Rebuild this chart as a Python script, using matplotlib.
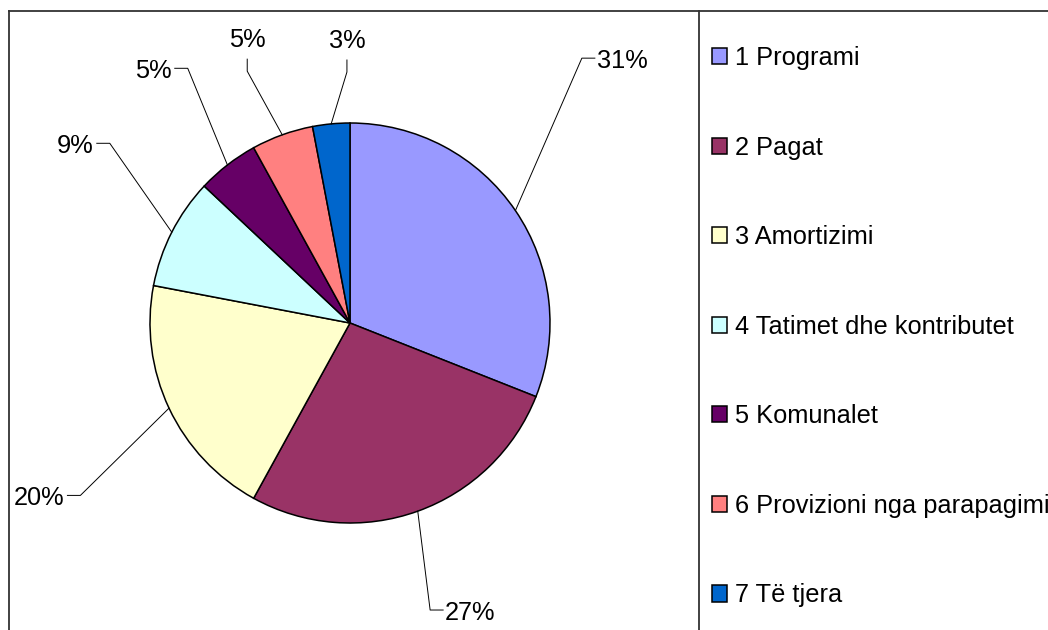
import numpy as np
import matplotlib
matplotlib.use("Agg")
import matplotlib.pyplot as plt

plt.rcParams['font.family'] = ['Liberation Sans', 'DejaVu Sans']

categories = ["1 Programi", "2 Pagat", "3 Amortizimi", "4 Tatimet dhe kontributet",
              "5 Komunalet", "6 Provizioni nga parapagimi", "7 Të tjera"]
shares = [31, 27, 20, 9, 5, 5, 3]
colors = ["#9999FF", "#993366", "#FFFFCC", "#CCFFFF", "#660066", "#FF8080", "#0066CC"]

# label layout: elbow of the leader line in polar form around the pie (deg, x radius)
elbow_ang = [48.8, -74.4, 212.6, 143.2, 122.5, 112.2, 90.7]
elbow_r = [1.76, 1.49, 1.60, 1.50, 1.51, 1.36, 1.255]
tick_dir = ['r', 'r', 'l', 'l', 'l', 'u', 'u']

W, H = 1048, 630
cx, cy, R = 350, H - 323, 200
fs = 18.3

fig = plt.figure(figsize=(W / 100, H / 100), dpi=100)
ax = fig.add_axes([0, 0, 1, 1])

wedges, _ = ax.pie(shares, colors=colors, startangle=90, counterclock=False,
                   center=(cx, cy), radius=R,
                   wedgeprops=dict(edgecolor='black', linewidth=1.1))
ax.set_xlim(0, W)
ax.set_ylim(0, H)
ax.set_aspect('auto')
ax.axis('off')

# frame lines
lc = '#333333'
ax.plot([9, 9], [0, H - 11], color=lc, lw=1.3, clip_on=False)
ax.plot([9, W], [H - 11, H - 11], color=lc, lw=1.3, clip_on=False)
ax.plot([699, 699], [0, H - 11], color=lc, lw=1.3, clip_on=False)

for w, s, a, r, d in zip(wedges, shares, elbow_ang, elbow_r, tick_dir):
    mid = np.deg2rad((w.theta1 + w.theta2) / 2)
    x0, y0 = cx + R * np.cos(mid), cy + R * np.sin(mid)
    ex = cx + r * R * np.cos(np.deg2rad(a))
    ey = cy + r * R * np.sin(np.deg2rad(a))
    if d == 'r':
        x2, y2 = ex + 13, ey
        ax.text(x2 + 2, y2, f"{s}%", ha='left', va='center_baseline', fontsize=fs)
    elif d == 'l':
        x2, y2 = ex - 13, ey
        ax.text(x2 - 3, y2, f"{s}%", ha='right', va='center_baseline', fontsize=fs)
    else:
        x2, y2 = ex, ey + 12
        ax.text(x2, y2 + 12, f"{s}%", ha='center', va='baseline', fontsize=fs)
    ax.plot([x0, ex, x2], [y0, ey, y2], color='black', lw=0.7)

leg = ax.legend(wedges, categories, loc='upper left', bbox_to_anchor=(712, H - 46),
                bbox_transform=ax.transData, frameon=False, fontsize=fs,
                borderpad=0, borderaxespad=0, handlelength=0.6, handleheight=0.6,
                handletextpad=0.3, labelspacing=2.58)
for h in leg.legend_handles:
    h.set_edgecolor('black')
    h.set_linewidth(1.1)

fig.savefig("out.png", dpi=100)
